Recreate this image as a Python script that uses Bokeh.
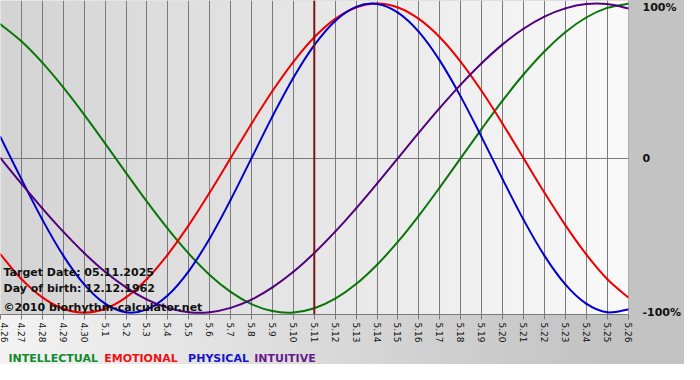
import math
import numpy as np
from bokeh.plotting import figure
from bokeh.layouts import column
from bokeh.models import FixedTicker, Span, Label, Range1d
from bokeh.core.properties import value
from bokeh.embed import file_html
from bokeh.resources import INLINE

# ---- data ----
dates = ["4.26", "4.27", "4.28", "4.29", "4.30", "5.1", "5.2", "5.3", "5.4", "5.5",
         "5.6", "5.7", "5.8", "5.9", "5.10", "5.11", "5.12", "5.13", "5.14", "5.15",
         "5.16", "5.17", "5.18", "5.19", "5.20", "5.21", "5.22", "5.23", "5.24",
         "5.25", "5.26"]
target_date = "5.11"

physical = [0.136, -0.136, -0.398, -0.631, -0.817, -0.942, -0.998, -0.979, -0.888, -0.731,
            -0.520, -0.270, 0.000, 0.270, 0.520, 0.731, 0.888, 0.979, 0.998, 0.942,
            0.817, 0.631, 0.398, 0.136, -0.136, -0.398, -0.631, -0.817, -0.942, -0.998, -0.979]
emotional = [-0.623, -0.782, -0.901, -0.975, -1.000, -0.975, -0.901, -0.782, -0.623, -0.434,
             -0.223, 0.000, 0.223, 0.434, 0.623, 0.782, 0.901, 0.975, 1.000, 0.975,
             0.901, 0.782, 0.623, 0.434, 0.223, 0.000, -0.223, -0.434, -0.623, -0.782, -0.901]
intellectual = [0.866, 0.756, 0.618, 0.458, 0.282, 0.095, -0.095, -0.282, -0.458, -0.618,
                -0.756, -0.866, -0.945, -0.990, -0.999, -0.972, -0.910, -0.815, -0.690, -0.541,
                -0.372, -0.189, 0.000, 0.189, 0.372, 0.541, 0.690, 0.815, 0.910, 0.972, 0.999]
intuitive = [0.000, -0.165, -0.325, -0.476, -0.614, -0.736, -0.837, -0.916, -0.969, -0.997,
             -0.997, -0.969, -0.916, -0.837, -0.736, -0.614, -0.476, -0.325, -0.165, 0.000,
             0.165, 0.325, 0.476, 0.614, 0.736, 0.837, 0.916, 0.969, 0.997, 0.997, 0.969]

y_ticks = [-1, 0, 1]
y_tick_labels = ["-100%", "0", "100%"]

series_names = ["INTELLECTUAL", "EMOTIONAL", "PHYSICAL", "INTUITIVE"]
info_lines = ["Target Date: 05.11.2025", "Day of birth: 12.12.1962",
              "\u00a92010 biorhythm-calculator.net"]

# ---- styling ----
line_colors = {"INTELLECTUAL": "#0a760a", "EMOTIONAL": "#ee0000",
               "PHYSICAL": "#0000d0", "INTUITIVE": "#52007e"}
legend_colors = {"INTELLECTUAL": "#138a2e", "EMOTIONAL": "#ee1111",
                 "PHYSICAL": "#1515cc", "INTUITIVE": "#661a8c"}
border_bg = "linear-gradient(to right, #f3f3f3 0%, #c3c3c3 88%, #c3c3c3 100%)"

W = 684
RIGHT = 48
xs = list(range(len(dates)))
x0, x1 = xs[0], xs[-1] + 0.02
y0, y1 = -1.012, 1.02

p = figure(width=W, height=346, output_backend="svg", toolbar_location=None,
           x_range=Range1d(x0, x1), y_range=Range1d(y0, y1),
           y_axis_location="right",
           min_border_left=0, min_border_top=0, min_border_right=RIGHT, min_border_bottom=32)
p.border_fill_color = None
p.outline_line_color = None
p.background_fill_color = "#e6e6e6"
p.styles = {"background": border_bg}

# plot-area gradient background
n = 256
img = np.empty((1, n), dtype=np.uint32)
view = img.view(dtype=np.uint8).reshape((1, n, 4))
g = np.linspace(212, 250, n).astype(np.uint8)
view[0, :, 0] = g
view[0, :, 1] = g
view[0, :, 2] = g
view[0, :, 3] = 255
bg = p.image_rgba(image=[img], x=x0, y=y0, dw=x1 - x0, dh=y1 - y0)
bg.level = "image"

# grids
p.xgrid.ticker = FixedTicker(ticks=xs)
p.xgrid.grid_line_color = "#7a7a7a"
p.xgrid.grid_line_width = 1
p.ygrid.ticker = FixedTicker(ticks=[0])
p.ygrid.grid_line_color = "#7a7a7a"

# x axis
xa = p.xaxis[0]
xa.ticker = FixedTicker(ticks=xs)
xa.major_label_overrides = {i: d for i, d in zip(xs, dates)}
xa.major_label_orientation = -math.pi / 2
xa.major_label_text_font = "DejaVu Sans"
xa.major_label_text_font_size = "9px"
xa.major_label_text_color = "#111111"
xa.major_label_standoff = 3
xa.axis_line_color = "#7a7a7a"
xa.major_tick_line_color = "#7a7a7a"
xa.major_tick_in = 0
xa.major_tick_out = 5
xa.minor_tick_line_color = None

# y axis (right)
ya = p.yaxis[0]
ya.ticker = FixedTicker(ticks=y_ticks)
ya.major_label_overrides = {t: l for t, l in zip(y_ticks, y_tick_labels)}
ya.major_label_text_font = "DejaVu Sans"
ya.major_label_text_font_style = "bold"
ya.major_label_text_font_size = "11px"
ya.major_label_text_color = "#111111"
ya.major_label_standoff = 8
ya.axis_line_color = None
ya.major_tick_line_color = None
ya.minor_tick_line_color = None

# target-date marker
p.add_layout(Span(location=dates.index(target_date), dimension="height",
                  line_color="#7d1515", line_width=2))


def smooth_segments(x, y):
    """Catmull-Rom style bezier segments through the read points."""
    n = len(x)
    sx0, sy0, sx1, sy1, c0x, c0y, c1x, c1y = [], [], [], [], [], [], [], []
    for i in range(n - 1):
        im = max(i - 1, 0)
        ip2 = min(i + 2, n - 1)
        sx0.append(x[i]); sy0.append(y[i])
        sx1.append(x[i + 1]); sy1.append(y[i + 1])
        c0x.append(x[i] + (x[i + 1] - x[im]) / 6.0)
        c0y.append(y[i] + (y[i + 1] - y[im]) / 6.0)
        c1x.append(x[i + 1] - (x[ip2] - x[i]) / 6.0)
        c1y.append(y[i + 1] - (y[ip2] - y[i]) / 6.0)
    return dict(x0=sx0, y0=sy0, x1=sx1, y1=sy1, cx0=c0x, cy0=c0y, cx1=c1x, cy1=c1y)


# curves
for name, vals in zip(series_names, [intellectual, emotional, physical, intuitive]):
    seg = smooth_segments(xs, vals)
    p.bezier(**seg, line_color=line_colors[name], line_width=2, line_cap="round")

# info texts
for i, t in enumerate(info_lines):
    p.add_layout(Label(x=3, y=[42, 26, 7][i], x_units="screen", y_units="screen",
                       text=t, text_font="DejaVu Sans", text_font_style="bold",
                       text_font_size="11px", text_color="#111111",
                       text_baseline="alphabetic"))

# legend strip below the chart (same frame geometry as the chart)
LH = 18
leg = figure(width=W, height=LH, output_backend="svg", toolbar_location=None,
             x_range=Range1d(0, W - RIGHT), y_range=Range1d(0, LH),
             x_axis_location=None, y_axis_location=None,
             min_border_left=0, min_border_top=0, min_border_bottom=0,
             min_border_right=RIGHT)
leg.grid.visible = False
leg.outline_line_color = None
leg.border_fill_color = None
leg.background_fill_color = None
leg.styles = {"background": border_bg}
legend_x = [8, 105, 190, 257]
leg.text(x=legend_x, y=[6] * len(series_names), text=series_names,
         text_color=[legend_colors[s] for s in series_names],
         text_font=value("DejaVu Sans"), text_font_style="bold",
         text_font_size="11px", text_baseline="alphabetic")

layout = column(p, leg, spacing=0)
open("out.html", "w").write(file_html(layout, INLINE))
